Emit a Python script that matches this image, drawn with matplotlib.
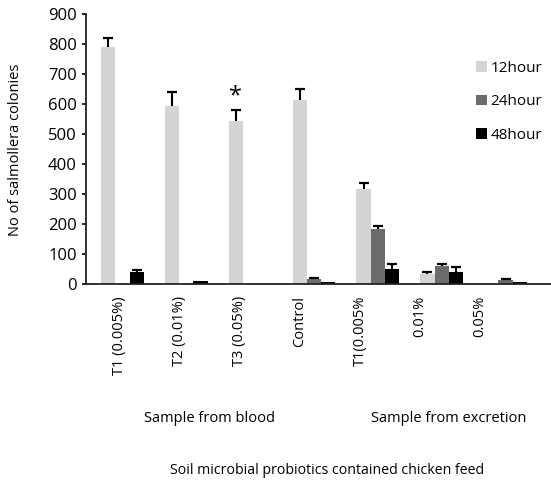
import matplotlib
matplotlib.use('Agg')
import matplotlib.pyplot as plt
import numpy as np

plt.rcParams['font.family'] = ['Open Sans', 'DejaVu Sans']

categories = ['T1 (0.005%)', 'T2 (0.01%)', 'T3 (0.05%)', 'Control', 'T1(0.005%', '0.01%', '0.05%']
series = ['12hour', '24hour', '48hour']
colors = ['#d4d4d4', '#6b6b6b', '#000000']

h12 = [792, 593, 542, 613, 316, 31, 0]
h24 = [0, 0, 0, 14, 181, 58, 11]
h48 = [40, 10, 0, 4, 47, 39, 5]
e12 = [29, 48, 37, 36, 20, 6, 0]
e24 = [0, 0, 0, 4, 12, 8, 5]
e48 = [4, 0, 0, 0, 17, 15, 0]

values = [h12, h24, h48]
errors = [e12, e24, e48]

fig = plt.figure(figsize=(5.51, 4.83), dpi=100)
ax = fig.add_axes([86 / 551, 1 - 283.5 / 483, 1 - 86 / 551, (283.5 - 14.3) / 483])

x = np.arange(len(categories))
bw = 0.224
for k in range(3):
    pos = x + (k - 1) * bw
    v = np.array(values[k], dtype=float)
    e = np.array(errors[k], dtype=float)
    ax.bar(pos, v, bw, color=colors[k], label=series[k])
    m = e > 0
    # one-sided error bars: stem up from bar top, cap only on top
    ax.errorbar(pos[m], v[m], yerr=[np.zeros(m.sum()), e[m]], fmt='none',
                ecolor='black', elinewidth=1.5, capsize=0)
    ax.plot(pos[m], v[m] + e[m], linestyle='none', marker='_',
            markersize=7, markeredgewidth=1.6, color='black')

# significance mark over T3 12hour
ax.text(2 - bw, 625, '*', ha='center', va='center', fontsize=17)

ax.set_xlim(-0.57, 6.71)
ax.set_ylim(0, 900)
ax.set_yticks(np.arange(0, 901, 100))
ax.tick_params(axis='y', labelsize=12, length=3, width=1.2, direction='out')

label_pos = x * 0.942 - 0.05
ax.set_xticks(label_pos)
ax.set_xticklabels(categories, rotation=90, fontsize=10.5, va='top', ha='center')
ax.tick_params(axis='x', length=0, pad=9)

for s in ['top', 'right']:
    ax.spines[s].set_visible(False)
for s in ['left', 'bottom']:
    ax.spines[s].set_linewidth(1.3)
    ax.spines[s].set_color('#222222')

fig.text(16 / 551, 1 - 150 / 483, 'No of salmollera colonies', rotation=90,
         ha='center', va='center', fontsize=10.5)

fig.text(209 / 551, 1 - 419 / 483, 'Sample from blood', ha='center', va='center', fontsize=10.5)
fig.text(449 / 551, 1 - 419 / 483, 'Sample from excretion', ha='center', va='center', fontsize=10.5)
fig.text(327.5 / 551, 1 - 471 / 483, 'Soil microbial probiotics contained chicken feed',
         ha='center', va='center', fontsize=10.2)

ax.legend(loc='upper left', bbox_to_anchor=(476 / 551, 1 - 61 / 483),
          bbox_transform=fig.transFigure, frameon=False, fontsize=11,
          handlelength=0.7, handleheight=0.7, handletextpad=0.25,
          labelspacing=1.2, borderpad=0, borderaxespad=0)

fig.savefig('out.png', dpi=100)
